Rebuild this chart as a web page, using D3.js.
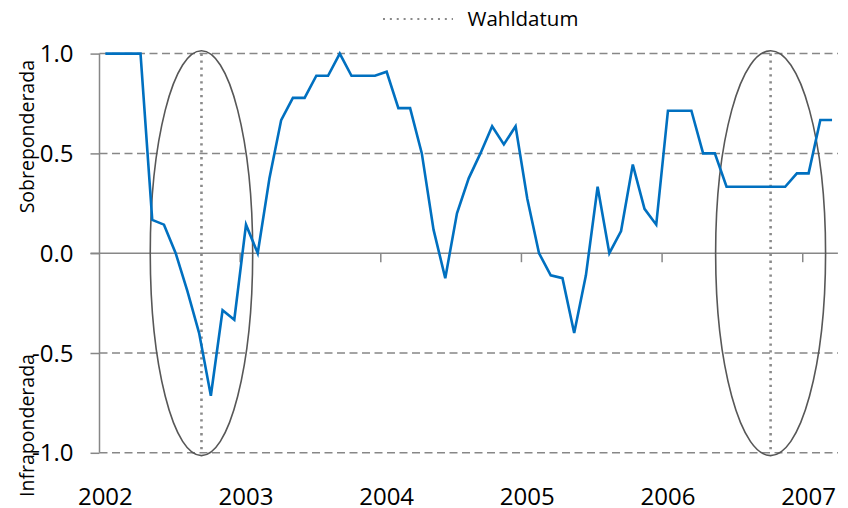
<!DOCTYPE html>
<html>
<head>
<meta charset="utf-8">
<script src="https://cdn.jsdelivr.net/npm/d3@7/dist/d3.min.js"></script>
<style>
  html, body { margin: 0; padding: 0; background: #fff; }
  svg { display: block; }
  text { font-family: "Open Sans", "Liberation Sans", sans-serif; fill: #000; }
</style>
</head>
<body>
<svg id="chart" width="848" height="508"></svg>
<script>
// ---------- data ----------
const startYear = 2002;
const monthCount = 63; // Jan 2002 .. Mar 2007
const years = ["2002", "2003", "2004", "2005", "2006", "2007"];
const months = d3.range(monthCount).map(i => {
  const yy = startYear + Math.floor(i / 12), mm = (i % 12) + 1;
  return yy + "-" + String(mm).padStart(2, "0");
});
const values = [
  1.0, 1.0, 1.0, 1.0, 0.167, 0.143, 0.0, -0.19, -0.40, -0.714, -0.286, -0.333,
  0.143, 0.0, 0.375, 0.667, 0.778, 0.778, 0.889, 0.889, 1.0, 0.889, 0.889, 0.889,
  0.909, 0.727, 0.727, 0.5, 0.118, -0.125, 0.2, 0.375, 0.5, 0.636, 0.545, 0.636,
  0.273, 0.0, -0.111, -0.125, -0.4, -0.111, 0.333, 0.0, 0.111, 0.444, 0.222, 0.143,
  0.714, 0.714, 0.714, 0.5, 0.5, 0.333, 0.333, 0.333, 0.333, 0.333, 0.333, 0.4,
  0.4, 0.667, 0.667
];
const yTicks = [1.0, 0.5, 0.0, -0.5, -1.0];
const yTickLabels = ["1.0", "0.5", "0.0", "-0.5", "-1.0"];
const electionDates = ["2002-09-22", "2006-10-09"];
const ellipseHalfWidthMonths = [4.37, 4.69];
const ellipseHalfHeight = 1.014;
const legendLabel = "Wahldatum";
const axisTitleTop = "Sobreponderada";
const axisTitleBottom = "Infraponderada";

// ---------- layout ----------
const svg = d3.select("#chart");
const plotL = 99.5, plotR = 837.9, plotT = 53.6, plotB = 452.8;

const x = d3.scaleBand().domain(months).range([plotL, plotR]).paddingInner(0).paddingOuter(0);
const bw = x.bandwidth();
const xIdx = d3.scaleLinear().domain([0, monthCount]).range([plotL, plotR]);
const y = d3.scaleLinear().domain([-1, 1]).range([plotB, plotT]);

function dateToIndex(s) {
  const [yy, mm, dd] = s.split("-").map(Number);
  const dim = new Date(yy, mm, 0).getDate();
  return (yy - startYear) * 12 + (mm - 1) + (dd - 1) / dim;
}

const gridColor = "#878787";

// gridlines (dashed)
svg.append("g").selectAll("line")
  .data(yTicks.filter(v => v !== 0))
  .join("line")
  .attr("x1", plotL).attr("x2", plotR)
  .attr("y1", d => y(d)).attr("y2", d => y(d))
  .attr("stroke", gridColor).attr("stroke-width", 1.5)
  .attr("stroke-dasharray", "8,4.5");

// y axis
const yAxis = d3.axisLeft(y).tickValues(yTicks).tickSize(9).tickFormat(() => "");
const gy = svg.append("g").attr("transform", `translate(${plotL},0)`).call(yAxis);
gy.select(".domain").attr("stroke", gridColor).attr("stroke-width", 1.5)
  .attr("d", `M0,${y(1)}V${y(-1)}`);
gy.selectAll(".tick line").attr("stroke", gridColor).attr("stroke-width", 1.5);

// y labels
svg.append("g").selectAll("text")
  .data(yTicks)
  .join("text")
  .attr("x", 73.5)
  .attr("y", d => y(d) + 8.6)
  .attr("text-anchor", "end")
  .style("font-size", "24px")
  .text((d, i) => yTickLabels[i]);

// x axis at zero
const tickMonths = years.slice(1).map(yr => yr + "-01").filter(m => months.includes(m));
svg.append("line")
  .attr("x1", plotL - 9).attr("x2", plotR)
  .attr("y1", y(0)).attr("y2", y(0))
  .attr("stroke", gridColor).attr("stroke-width", 1.5);
svg.append("g").selectAll("line")
  .data(tickMonths)
  .join("line")
  .attr("x1", d => x(d)).attr("x2", d => x(d))
  .attr("y1", y(0)).attr("y2", y(0) + 9)
  .attr("stroke", gridColor).attr("stroke-width", 1.5);

// x labels
svg.append("g").selectAll("text")
  .data(years)
  .join("text")
  .attr("x", d => x(d + "-01") + bw / 2)
  .attr("y", 505)
  .attr("text-anchor", "middle")
  .style("font-size", "24px")
  .text(d => d);

// election dotted lines
const elect = electionDates.map((d, i) => ({ idx: dateToIndex(d), hw: ellipseHalfWidthMonths[i] }));
svg.append("g").selectAll("line")
  .data(elect)
  .join("line")
  .attr("x1", d => xIdx(d.idx)).attr("x2", d => xIdx(d.idx))
  .attr("y1", y(1)).attr("y2", y(-1))
  .attr("stroke", "#8a8a8a").attr("stroke-width", 2.6)
  .attr("stroke-dasharray", "2.3,4.6");

// ellipses
svg.append("g").selectAll("ellipse")
  .data(elect)
  .join("ellipse")
  .attr("cx", d => xIdx(d.idx))
  .attr("cy", y(0))
  .attr("rx", d => xIdx(d.hw) - xIdx(0))
  .attr("ry", y(0) - y(ellipseHalfHeight))
  .attr("fill", "none")
  .attr("stroke", "#575757").attr("stroke-width", 1.6);

// data line
const line = d3.line()
  .x((d, i) => x(months[i]) + bw / 2)
  .y(d => y(d));
svg.append("path")
  .datum(values)
  .attr("d", line)
  .attr("fill", "none")
  .attr("stroke", "#0070C0")
  .attr("stroke-width", 2.6)
  .attr("stroke-linejoin", "miter");

// axis titles
svg.append("text")
  .attr("transform", `translate(34,136.7) rotate(-90)`)
  .attr("text-anchor", "middle")
  .style("font-size", "19.5px")
  .text(axisTitleTop);
svg.append("text")
  .attr("transform", `translate(34,425.5) rotate(-90)`)
  .attr("text-anchor", "middle")
  .style("font-size", "19.5px")
  .text(axisTitleBottom);

// legend
svg.append("line")
  .attr("x1", 383).attr("x2", 453)
  .attr("y1", 19).attr("y2", 19)
  .attr("stroke", "#8a8a8a").attr("stroke-width", 2.2)
  .attr("stroke-dasharray", "2,4.87");
svg.append("text")
  .attr("x", 467.5).attr("y", 26)
  .style("font-size", "20.5px")
  .text(legendLabel);
</script>
</body>
</html>
